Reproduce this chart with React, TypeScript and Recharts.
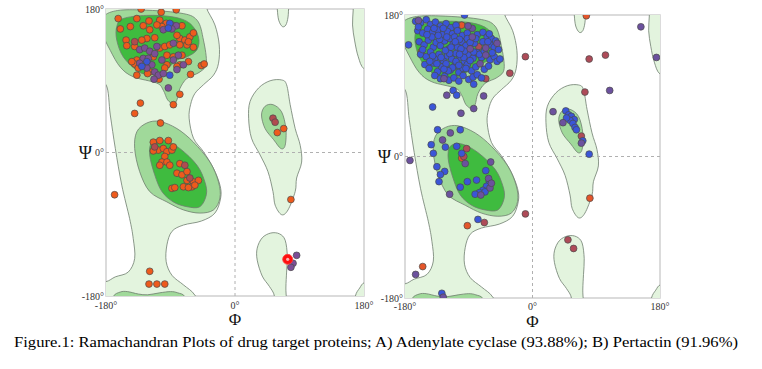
import { ScatterChart, Scatter, XAxis, YAxis, ReferenceArea, Label } from 'recharts';

const SERIF = "'Liberation Serif', 'Times New Roman', serif";
const TICKS = [-180, 0, 180];
const CAPTION = 'Figure.1: Ramachandran Plots of drug target proteins; A) Adenylate cyclase (93.88%); B) Pertactin (91.96%)';

// contour colours
const LIGHT = '#e3f4de';
const MEDIUM = '#a0d99a';
const DARK = '#3fbb3f';
const EDGE = '#6f7d6f';

// contour outlines, [phi, psi] in degrees (wrapped past the edges)
const LIGHT_A = [[-200, 200], [-41, 200], [-40, 182], [-28, 160], [-22, 135], [-23, 112], [-30, 97], [-44, 85], [-56, 74], [-62, 60], [-64, 43], [-58, 18], [-44, 1], [-30, -20], [-21, -41], [-20, -57], [-28, -76], [-47, -86], [-72, -91], [-88, -99], [-95, -116], [-96, -137], [-88, -154], [-72, -166], [-56, -179], [-50, -200], [-200, -200], [-200, -163], [-180, -162], [-167, -156], [-149, -150], [-140, -133], [-142, -108], [-147, -83], [-158, -41], [-167, 5], [-174, 47], [-180, 85], [-200, 85]];
const LIGHT_TR = [[165, 200], [165, 180], [164, 160], [167, 140], [172, 120], [180, 105], [200, 100], [200, 200]];
const LIGHT_BR = [[166, -200], [168, -180], [174, -170], [181, -163], [200, -160], [200, -200]];
const LIGHT_TOP = [[58, 200], [59, 180], [61, 166], [66, 158], [71, 160], [74, 170], [75, 185], [76, 200]];
const LIGHT_L = [[65, 91], [72, 85], [77, 60], [84, 30], [91, 9], [93, -12], [86, -32], [84, -49], [74, -72], [65, -78], [56, -66], [53, -49], [46, -24], [35, -3], [23, 18], [19, 43], [21, 64], [33, 81], [49, 90]];
const LIGHT_D = [[55, -200], [55, -180], [48, -168], [38, -155], [31, -135], [31, -120], [38, -107], [50, -101], [62, -102], [70, -110], [73, -130], [72, -150], [71, -170], [71, -200]];
const MED_BETA = [[-185, 168], [-170, 177], [-137, 179], [-77, 175], [-53, 166], [-44, 141], [-40, 112], [-49, 101], [-67, 93], [-77, 80], [-81, 66], [-86, 61], [-94, 66], [-100, 78], [-109, 87], [-142, 95], [-160, 107], [-174, 128], [-185, 150]];
const MED_BOTTOM = [[-172, -200], [-170, -181], [-160, -175], [-150, -174.5], [-135, -177.5], [-122, -178.5], [-105, -176], [-90, -174.5], [-80, -176], [-70, -181], [-68, -200]];
const MED_ALPHA = [[-137, 26], [-123, 37], [-105, 39], [-81, 30], [-58, 13], [-35, -12], [-23, -37], [-21, -57], [-30, -72], [-49, -76], [-72, -72], [-95, -62], [-119, -49], [-133, -24], [-140, 5]];
const MED_L = [[53, 60], [65, 51], [71, 30], [70, 9], [64, 5], [54, 16], [42, 30], [37, 47], [42, 58]];
const DARK_BETA = [[-165, 158], [-156, 168], [-123, 172], [-86, 170], [-63, 162], [-51, 145], [-53, 129], [-67, 120], [-81, 116], [-91, 108], [-105, 101], [-123, 98], [-137, 103], [-156, 120], [-165, 141]];
const DARK_ALPHA = [[-116, 13], [-100, 16], [-77, 5], [-53, -16], [-42, -37], [-40, -53], [-49, -68], [-67, -68], [-86, -62], [-102, -49], [-112, -28], [-119, -3]];

const LOWER = [
  { pts: LIGHT_A, fill: LIGHT }, { pts: LIGHT_TR, fill: LIGHT }, { pts: LIGHT_BR, fill: LIGHT },
  { pts: LIGHT_TOP, fill: LIGHT }, { pts: LIGHT_L, fill: LIGHT }, { pts: LIGHT_D, fill: LIGHT },
];
const UPPER = [
  { pts: MED_BETA, fill: MEDIUM }, { pts: MED_BOTTOM, fill: MEDIUM }, { pts: MED_ALPHA, fill: MEDIUM }, { pts: MED_L, fill: MEDIUM },
  { pts: DARK_BETA, fill: DARK }, { pts: DARK_ALPHA, fill: DARK },
];
const ZERO_V = [[0, -180], [0, 180]];
const ZERO_H = [[-180, 0], [180, 0]];

// A) Adenylate cyclase residues
const A_ORANGE = [[-131, 180], [-82, 179], [-103, 176], [-163, 168], [-137, 168], [-120, 165], [-105, 166], [-96, 162], [-102, 158], [-74, 159], [-160, 155], [-146, 158], [-128, 159], [-119, 154], [-109, 160], [-77, 143], [-70, 141], [-63, 145], [-58, 150], [-112, 144], [-123, 143], [-130, 141], [-152, 141], [-151, 134], [-140, 133], [-105, 131], [-98, 133], [-91, 135], [-77, 135], [-67, 135], [-58, 132], [-95, 122], [-86, 120], [-74, 122], [-114, 120], [-137, 116], [-140, 111], [-135, 106], [-119, 101], [-77, 110], [-65, 114], [-47, 109], [-43, 111], [-62, 98], [-137, 97], [-122, 99], [-106, 92], [-95, 110], [-81, 108], [-98, 106], [-65, 139], [-81, 147], [-144, 114],
  [-77, 73], [-86, 60], [-132, 62], [-140, 49], [-104, 37],
  [-114, 13], [-105, 15], [-93, 15], [-107, 3], [-100, 5], [-95, 1], [-88, 3], [-86, 7], [-114, 2], [-98, -5], [-102, -12], [-95, -12], [-105, -16], [-91, -16], [-77, -14], [-81, -26], [-74, -28], [-67, -24], [-67, -35], [-58, -37], [-51, -35], [-60, -43], [-72, -43], [-65, -44], [-88, -45], [-84, -44], [-56, -41],
  [-168, -53], [78, -59], [68, 30], [59, 25], [-119, -149], [-120, -165], [-109, -165], [-98, -165]];
const A_PURPLE = [[-88, 160], [-82, 159], [-100, 154], [-88, 155], [-133, 129], [-126, 131], [-119, 127], [-112, 124], [-86, 137], [-128, 118], [-121, 118], [-133, 112], [-116, 110], [-123, 106], [-112, 101], [-107, 97], [-100, 99], [-81, 104], [-72, 110], [-113, 92], [-79, 122], [-86, 116], [-109, 133], [-102, 116], [-93, 81], [86, -129], [81, -139], [78, -144]];
const A_BLUE = [[-91, 162], [-93, 156], [-123, 114], [-130, 108], [-91, 97]];
const A_MAROON = [[-140, 139], [-112, 7], [-70, -16], [-63, -32], [53, 43], [56, 38]];
const A_OUTLIER = [[73.5, -134]];

// B) Pertactin residues
const B_BLUE = [[-165, 172], [-158, 170], [-150, 174], [-144, 168], [-137, 171], [-130, 166], [-122, 169], [-115, 164], [-108, 167], [-96, 180],
  [-162, 160], [-155, 157], [-148, 162], [-141, 158], [-134, 161], [-127, 155], [-120, 159], [-113, 156], [-106, 160], [-99, 154], [-92, 157], [-78, 155], [-70, 158], [-64, 152], [-58, 150], [-52, 147],
  [-160, 146], [-153, 142], [-147, 148], [-140, 139], [-136, 145], [-130, 141], [-124, 147], [-118, 137], [-112, 143], [-106, 139], [-100, 146], [-94, 141], [-82, 144], [-70, 146], [-60, 142], [-54, 139], [-48, 136],
  [-158, 130], [-150, 127], [-144, 133], [-138, 125], [-132, 130], [-126, 122], [-120, 128], [-114, 124], [-108, 131], [-102, 126], [-96, 121], [-90, 129], [-84, 125], [-78, 132], [-72, 126], [-60, 123], [-54, 127], [-50, 121], [-46, 124],
  [-152, 117], [-146, 112], [-140, 119], [-134, 108], [-128, 114], [-122, 118], [-116, 110], [-110, 115], [-104, 107], [-98, 112], [-92, 117], [-86, 109], [-80, 114], [-68, 111], [-62, 115],
  [-138, 103], [-130, 99], [-124, 102], [-118, 97], [-111, 100], [-104, 96], [-98, 103], [-90, 98], [-84, 101], [-78, 104], [-72, 100],
  [-142, 152], [-131, 149], [-126, 163], [-117, 150], [-110, 152], [-103, 149], [-96, 134], [-101, 137], [-117, 131], [-123, 135], [-129, 126], [-135, 118], [-141, 128], [-108, 121], [-113, 113], [-119, 109], [-125, 111], [-104, 116], [-97, 126], [-92, 150], [-88, 145], [-80, 150], [-75, 130], [-68, 134], [-63, 146], [-57, 132], [-61, 156], [-145, 121], [-155, 136], [-149, 155], [-161, 165], [-139, 163], [-133, 154], [-121, 152], [-115, 139], [-109, 146], [-103, 130], [-94, 112], [-88, 122], [-83, 133],
  [-175, 142], [-112, 84], [-107, 78], [-83, 92], [-141, 63], [-134, 34], [-102, 34], [-143, 15], [-123, 12], [-140, 4], [-107, 13], [-100, 4], [-135, -13], [-124, -19], [-130, -23], [-132, -32], [-102, -39], [-92, -32], [-66, -18], [-79, -30], [-61, -32], [-65, -38], [-70, -43], [-75, -46], [-81, -48], [-67, -45], [-77, -80], [-128, -174],
  [47, 58], [51, 53], [55, 51], [59, 47], [53, 46], [48, 49], [57, 42], [60, 37], [62, 34], [71, 20], [80, 3]];
const B_PURPLE = [[-85, 152], [-85, 163], [-88, 137], [-66, 138], [-50, 144], [-66, 129], [-74, 118], [-91, 166], [-161, 173], [-125, 99], [-121, 78], [-69, 77], [-83, 61], [-101, 55], [-116, 30], [-127, 21], [-173, -5], [-95, -9], [-117, -48], [-59, -7], [-62, -28], [-73, -49], [-60, -40], [-58, -34], [-165, -150], [-126, -179], [43, 43], [69, 17], [29, 57], [109, 84], [153, 165], [175, 126]];
const B_MAROON = [[-76, 140], [-66, 99], [-32, 106], [-10, 127], [-93, 10], [-97, 0], [-68, -84], [-10, -73], [69, 26], [74, 82], [80, 124], [103, 129], [50, -106], [58, -117]];
const B_ORANGE = [[-100, 167], [-157, 133], [-100, -2], [-92, -88], [-155, -140], [76, 179], [81, -53]];

const toPts = (a: number[][]) => a.map(([phi, psi]) => ({ phi, psi }));
const deg = (v: number) => `${v}°`;
const noDot = () => <g />;
const dot = (color: string) => (p: any) => (
  <circle cx={p.cx} cy={p.cy} r={3.4} fill={color} stroke="#4b4b4b" strokeWidth={0.7} />
);
const bigDot = (p: any) => (
  <g>
    <circle cx={p.cx} cy={p.cy} r={5} fill="#ff1010" stroke="#ff4040" strokeWidth={0.8} />
    <circle cx={p.cx} cy={p.cy} r={1.6} fill="#ffb0b0" />
  </g>
);

// closed cardinal-style curve so the contour passes through the traced points
function smoothClosed(context: any) {
  let pts: number[][] = [];
  return {
    areaStart() {},
    areaEnd() {},
    lineStart() { pts = []; },
    point(x: number, y: number) { pts.push([+x, +y]); },
    lineEnd() {
      const n = pts.length;
      if (!n) return;
      context.moveTo(pts[0][0], pts[0][1]);
      for (let i = 0; i < n; i++) {
        const p0 = pts[(i - 1 + n) % n];
        const p1 = pts[i];
        const p2 = pts[(i + 1) % n];
        const p3 = pts[(i + 2) % n];
        context.bezierCurveTo(
          p1[0] + (p2[0] - p0[0]) / 6, p1[1] + (p2[1] - p0[1]) / 6,
          p2[0] - (p3[0] - p1[0]) / 6, p2[1] - (p3[1] - p1[1]) / 6,
          p2[0], p2[1],
        );
      }
      context.closePath();
    },
  };
}

const psiTick = (gap: number) => (props: any) => {
  const { x, y, payload } = props;
  return (
    <g>
      <text x={x} y={y} dy={3.5} textAnchor="end" fontSize={10} fill="#333" style={{ fontFamily: SERIF }}>{deg(payload.value)}</text>
      {payload.value === 0 && (
        <text x={x - gap} y={y} dy={6} textAnchor="end" fontSize={18} fill="#111" style={{ fontFamily: SERIF }}>Ψ</text>
      )}
    </g>
  );
};

type Group = { pts: number[][]; shape: any };

function Rama({ width, height, margin, yWidth, psiGap, xMargin, groups }: {
  width: number; height: number; margin: any; yWidth: number; psiGap: number; xMargin: number; groups: Group[];
}) {
  return (
    <ScatterChart width={width} height={height} margin={margin} style={{ fontFamily: SERIF }}>
      <XAxis type="number" dataKey="phi" domain={[-180, 180]} ticks={TICKS} allowDataOverflow
        tickFormatter={deg} tickLine={false} axisLine={false} tickSize={0} tickMargin={xMargin} height={32}
        tick={{ fontSize: 10, fill: '#333', style: { fontFamily: SERIF } }}>
        <Label value="Φ" position="insideBottom" offset={3} fontSize={17} fill="#111" style={{ fontFamily: SERIF }} />
      </XAxis>
      <YAxis type="number" dataKey="psi" domain={[-180, 180]} ticks={TICKS} allowDataOverflow
        width={yWidth} tickLine={false} axisLine={false} tickSize={0} tickMargin={2} tick={psiTick(psiGap)} />
      <ReferenceArea x1={-180} x2={180} y1={-180} y2={180} fill="none" stroke="#cfcfcf" strokeWidth={1.5} />
      {LOWER.map((c, i) => (
        <Scatter key={`l${i}`} data={toPts(c.pts)} shape={noDot} lineJointType={smoothClosed as any}
          line={{ fill: c.fill, stroke: EDGE, strokeWidth: 0.8 }} isAnimationActive={false} />
      ))}
      <Scatter data={toPts(ZERO_V)} shape={noDot} line={{ stroke: '#b0b0b0', strokeDasharray: '3 3' }} isAnimationActive={false} />
      <Scatter data={toPts(ZERO_H)} shape={noDot} line={{ stroke: '#b0b0b0', strokeDasharray: '3 3' }} isAnimationActive={false} />
      {UPPER.map((c, i) => (
        <Scatter key={`u${i}`} data={toPts(c.pts)} shape={noDot} lineJointType={smoothClosed as any}
          line={{ fill: c.fill, stroke: EDGE, strokeWidth: 0.8 }} isAnimationActive={false} />
      ))}
      {groups.map((g, i) => (
        <Scatter key={`g${i}`} data={toPts(g.pts)} shape={g.shape} isAnimationActive={false} />
      ))}
    </ScatterChart>
  );
}

const GROUPS_A: Group[] = [
  { pts: A_ORANGE, shape: dot('#ee5a1c') },
  { pts: A_MAROON, shape: dot('#b04b4f') },
  { pts: A_PURPLE, shape: dot('#7c4f96') },
  { pts: A_BLUE, shape: dot('#3a55d6') },
  { pts: A_OUTLIER, shape: bigDot },
];
const GROUPS_B: Group[] = [
  { pts: B_ORANGE, shape: dot('#e4552a') },
  { pts: B_MAROON, shape: dot('#ae4b58') },
  { pts: B_BLUE, shape: dot('#3a55d8') },
  { pts: B_PURPLE, shape: dot('#6c519e') },
];

export default function App() {
  return (
    <div style={{ position: 'fixed', left: 0, top: 0, width: 762, height: 369, background: '#fff' }}>
      <svg width={762} height={369} style={{ position: 'absolute', left: 0, top: 0 }}>
        <text x={14} y={347} fontSize={14} fill="#000" style={{ fontFamily: SERIF }} textLength={724} lengthAdjust="spacingAndGlyphs">{CAPTION}</text>
      </svg>
      <div style={{ position: 'absolute', left: 0, top: 0 }}>
        <Rama width={376} height={328} margin={{ top: 9, right: 12, bottom: 0, left: 76 }} yWidth={30} psiGap={12} xMargin={6} groups={GROUPS_A} />
      </div>
      <div style={{ position: 'absolute', left: 360, top: 0 }}>
        <Rama width={320} height={330} margin={{ top: 15, right: 20, bottom: 0, left: 25 }} yWidth={20} psiGap={12} xMargin={5} groups={GROUPS_B} />
      </div>
    </div>
  );
}
